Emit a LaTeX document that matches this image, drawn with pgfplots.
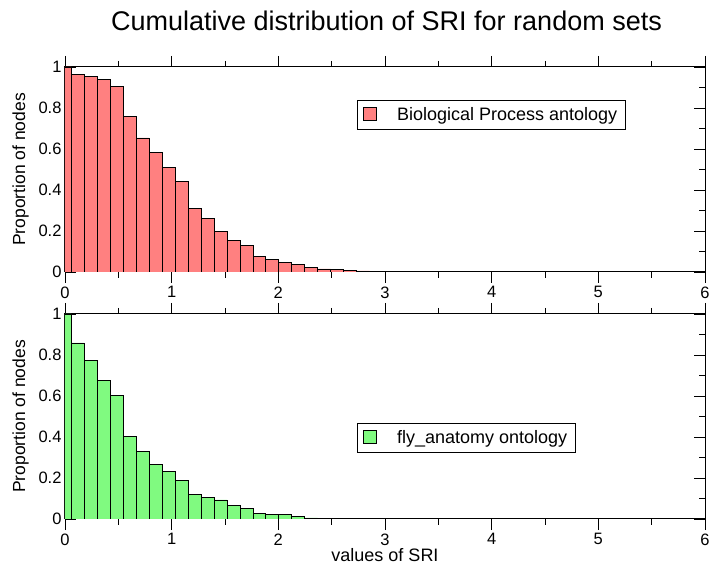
\documentclass[border=0pt]{standalone}
\usepackage{fontspec}
\setmainfont{Liberation Sans}
\usepackage{pgfplots}
\pgfplotsset{compat=1.18}
\definecolor{barred}{RGB}{255,128,128}
\definecolor{bargreen}{RGB}{128,250,128}
\pgfplotsset{
  panel/.style={
    width=640pt, height=205pt, scale only axis,
    xmin=0, xmax=6, ymin=0, ymax=1,
    xtick={0,1,2,3,4,5,6}, minor x tick num=1,
    ytick={0,0.2,0.4,0.6,0.8,1}, minor y tick num=1,
    tick align=inside, major tick length=11pt, minor tick length=6pt,
    tick style={black, line width=0.8pt},
    axis line style={line width=1pt},
    ticklabel style={font=\fontsize{16.5}{16.5}\selectfont},
    /pgf/number format/assume math mode=true,
    ylabel={Proportion of nodes},
    ylabel style={font=\fontsize{17.5}{17.5}\selectfont, yshift=3pt},
    ybar, bar width=0.1215,
    legend cell align=left,
    legend style={anchor=north west, draw=black, line width=1pt,
      font=\fontsize{18}{19}\selectfont, inner xsep=6pt, inner ysep=5pt},
  },
}
\begin{document}
\begin{tikzpicture}
\useasboundingbox (0pt,0pt) rectangle (713pt,565pt);
\node[font=\fontsize{27}{27}\selectfont, anchor=base] at (386.5pt,534pt) {Cumulative distribution of SRI for random sets};
\begin{axis}[panel, at={(65pt,293pt)}, anchor=south west,
  legend style={at={(rel axis cs:0.456,0.839)}},
  legend image code/.code={\draw[fill=barred, draw=black, line width=0.8pt] (2pt,-6pt) rectangle (15pt,7pt);}]
\addplot[draw=black, line width=0.8pt, fill=barred] coordinates {
(0,1.0) (0.1215,0.964) (0.243,0.954) (0.3645,0.938) (0.486,0.906)
(0.6075,0.758) (0.729,0.654) (0.8505,0.584) (0.972,0.509) (1.0935,0.442)
(1.215,0.311) (1.3365,0.260) (1.458,0.198) (1.5795,0.153) (1.701,0.128)
(1.8225,0.076) (1.944,0.062) (2.0655,0.046) (2.187,0.036) (2.3085,0.020)
(2.43,0.015) (2.5515,0.011) (2.673,0.008) (2.7945,0.005) (2.916,0.003)
(3.0375,0.002) (3.159,0.001) (3.2805,0.001) (3.402,0.0005)
};
\addlegendentry{\hspace{18pt}Biological Process antology}
\end{axis}
\begin{axis}[panel, at={(65pt,46pt)}, anchor=south west,
  xlabel={values of SRI},
  xlabel style={font=\fontsize{18}{18}\selectfont, yshift=4pt},
  legend style={at={(rel axis cs:0.456,0.468)}},
  legend image code/.code={\draw[fill=bargreen, draw=black, line width=0.8pt] (2pt,-6pt) rectangle (15pt,7pt);}]
\addplot[draw=black, line width=0.8pt, fill=bargreen] coordinates {
(0,1.0) (0.1215,0.859) (0.243,0.772) (0.3645,0.676) (0.486,0.602)
(0.6075,0.403) (0.729,0.330) (0.8505,0.268) (0.972,0.231) (1.0935,0.190)
(1.215,0.120) (1.3365,0.107) (1.458,0.093) (1.5795,0.067) (1.701,0.052)
(1.8225,0.028) (1.944,0.024) (2.0655,0.020) (2.187,0.013) (2.3085,0.005)
(2.43,0.003) (2.5515,0.002) (2.673,0.001) (2.7945,0.0005)
};
\addlegendentry{\hspace{18pt}fly\_anatomy ontology}
\end{axis}
\end{tikzpicture}
\end{document}
